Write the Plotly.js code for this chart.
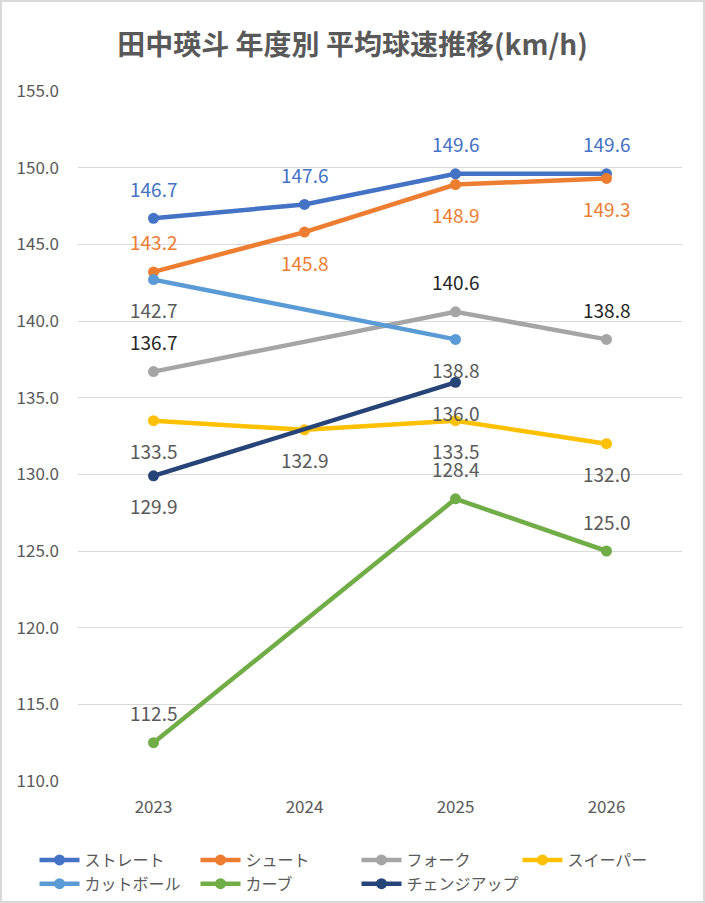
<!DOCTYPE html>
<html>
<head>
<meta charset="utf-8">
<script src="https://cdn.plot.ly/plotly-3.0.1.min.js"></script>
<style>
  body { margin: 0; background: #fff; }
  #wrap { position: relative; width: 705px; height: 903px; }
  #chart { width: 705px; height: 903px; }
  #frame { position: absolute; left: 0; top: 0; width: 705px; height: 903px; box-sizing: border-box;
           border: 2px solid #d9d9d9; pointer-events: none; }
</style>
</head>
<body>
<div id="wrap">
  <div id="chart"></div>
  <div id="frame"></div>
</div>
<script>
// data
const years = ['2023', '2024', '2025', '2026'];
const straight = [146.7, 147.6, 149.6, 149.6];
const shoot = [143.2, 145.8, 148.9, 149.3];
const fork = [136.7, null, 140.6, 138.8];
const sweeper = [133.5, 132.9, 133.5, 132.0];
const cutter = [142.7, null, 138.8, null];
const curve = [112.5, null, 128.4, 125.0];
const changeup = [129.9, null, 136.0, null];

// no quotes in the family string, annotations vanish with them
const font = 'Noto Sans CJK JP, Noto Sans, sans-serif';

// name, values, line colour, label colour, label side per point (1 up / -1 down)
const series = [
    ['ストレート', straight, '#4472C4', '#4472C4', [1, 1, 1, 1]],
    ['シュート', shoot, '#ED7D31', '#ED7D31', [1, -1, -1, -1]],
    ['フォーク', fork, '#A5A5A5', '#262626', [1, 1, 1, 1]],
    ['スイーパー', sweeper, '#FFC000', '#595959', [-1, -1, -1, -1]],
    ['カットボール', cutter, '#5B9BD5', '#595959', [-1, -1, -1, -1]],
    ['カーブ', curve, '#70AD47', '#595959', [1, 1, 1, 1]],
    ['チェンジアップ', changeup, '#264478', '#595959', [-1, -1, -1, -1]]
];

let data = [];
let annotations = [];
series.forEach(s => {
    data.push({
        x: years,
        y: s[1],
        name: s[0],
        type: 'scatter',
        mode: 'lines+markers',
        connectgaps: true,
        line: {color: s[2], width: 4.5},
        marker: {color: s[2], size: 11},
        hoverinfo: 'y+name'
    });
    s[1].forEach((v, i) => {
        if (v === null) return;
        annotations.push({
            x: i, y: v, xref: 'x', yref: 'y',
            text: v.toFixed(1), showarrow: false,
            yshift: 30 * s[4][i],
            font: {family: font, size: 19, color: s[3]}
        });
    });
});

var layout = {
    width: 705,
    height: 903,
    paper_bgcolor: '#fff',
    plot_bgcolor: '#fff',
    margin: { l: 78, r: 23, t: 91, b: 122, autoexpand: false },
    font: {family: font, color: '#595959'},
    title: {
        text: '田中瑛斗 年度別 平均球速推移(km/h)',
        font: {family: font, size: 28, weight: 'bold', color: '#595959'},
        x: 0.5, xanchor: 'center',
        y: 1 - 45 / 903, yanchor: 'middle'
    },
    xaxis: {
        type: 'category',
        range: [-0.5, 3.5],
        showgrid: false,
        showline: false,
        zeroline: false,
        ticks: '',
        ticklabelstandoff: 14,
        tickfont: {family: font, size: 17, color: '#595959'}
    },
    yaxis: {
        range: [110, 155],
        dtick: 5,
        tick0: 110,
        tickformat: '.1f',
        gridcolor: '#d9d9d9',
        gridwidth: 1.3,
        zeroline: false,
        showline: false,
        ticks: '',
        ticklabelstandoff: 18,
        tickfont: {family: font, size: 17, color: '#595959'}
    },
    legend: {
        orientation: 'h',
        x: -0.072, xanchor: 'left',
        y: (781 - 843) / 690, yanchor: 'top',
        entrywidth: 106,
        itemwidth: 40,
        tracegroupgap: 0,
        font: {family: font, size: 16, color: '#595959'}
    },
    annotations: annotations,
    showlegend: true
};

Plotly.newPlot('chart', data, layout, {displayModeBar: false});
</script>
</body>
</html>
